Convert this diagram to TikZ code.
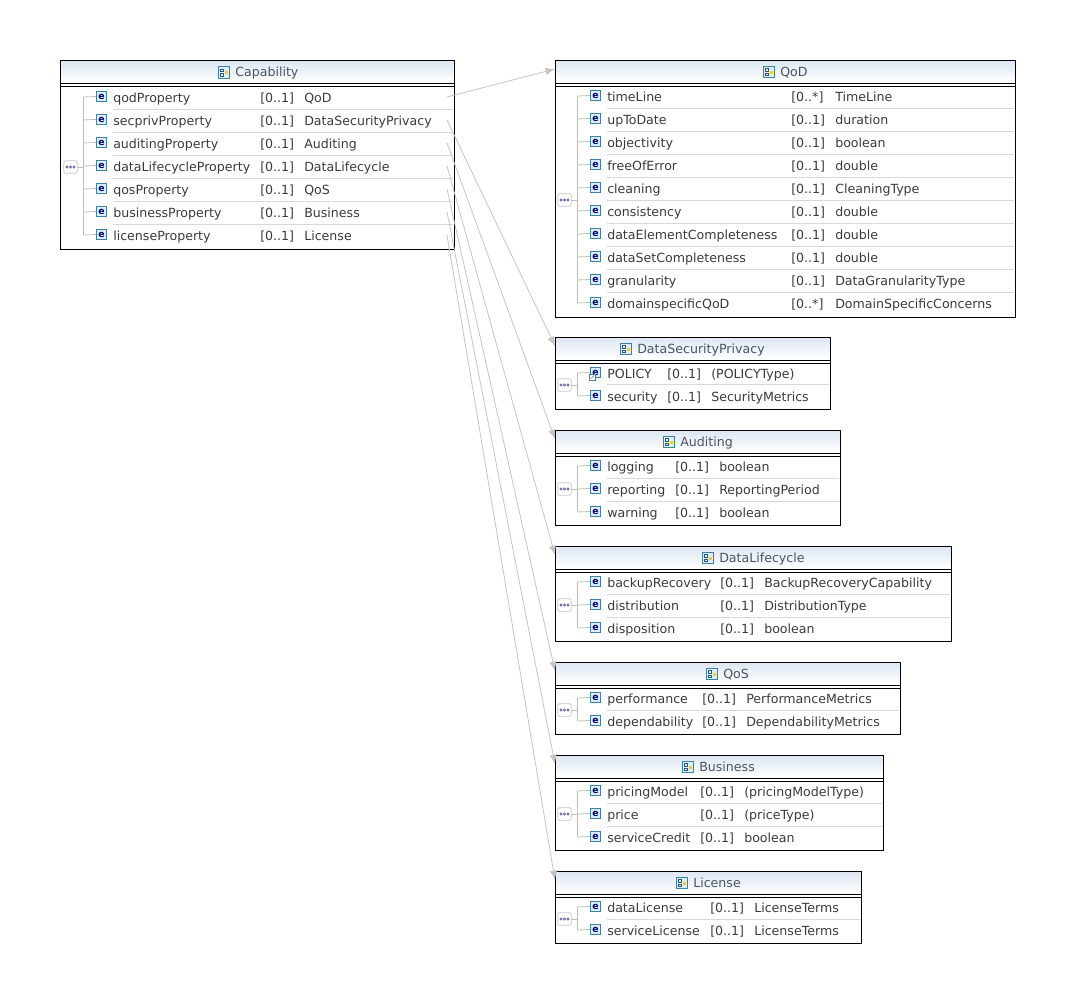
\documentclass[tikz,border=0pt]{standalone}
\usepackage{fontspec}
\setmainfont{DejaVu Sans}
\usetikzlibrary{arrows.meta,calc}
\definecolor{txt}{HTML}{3A3A3A}
\definecolor{ttl}{HTML}{4A5560}
\definecolor{wire}{HTML}{C4C4C4}
\definecolor{sep}{HTML}{D8D8D8}
\definecolor{brk}{HTML}{BDBDB5}
\definecolor{iconb}{HTML}{3F7F9F}
\definecolor{iconf}{HTML}{DDEEF6}
\definecolor{hdrtop}{HTML}{DCE6F2}
\tikzset{
  hdr/.style={top color=hdrtop,bottom color=white,draw=none},
  rowtext/.style={anchor=base west,inner sep=0,font=\fontsize{9.45}{11}\selectfont,text=txt},
  titletext/.style={anchor=base west,inner sep=0,font=\fontsize{9.45}{11}\selectfont,text=ttl},
  eicon/.style={draw=iconb,line width=0.6pt,fill=iconf,minimum size=8pt,inner sep=0,font=\bfseries\fontsize{7}{7}\selectfont,text=blue!45!black},
  ticon/.style={draw=iconb,line width=0.6pt,fill=iconf,minimum size=8.5pt,inner sep=0},
  seqbox/.style={draw=gray!45,line width=0.6pt,fill=white,rounded corners=1.5pt,minimum width=10pt,minimum height=9.5pt,inner sep=0},
  bracket/.style={draw=brk,line width=0.6pt},
  rowsep/.style={draw=sep,line width=0.5pt},
  wirearrow/.style={draw=wire,line width=0.6pt,-{Latex[length=7pt,width=5.5pt,fill=wire]}},
}
% \umlbox{id}{x1}{y1}{x2}{y2}{title}{titleX}
\newcommand{\umlbox}[7]{%
  \path[hdr] (#2,#3) rectangle (#4,#3+22);
  \node[ticon] (#1icon) at (#7,#3+12) {};
  \draw[iconb!70!black,line width=0.4pt] (#7-3.5,#3+8.5) rectangle +(2.5,2.5) (#7-3.5,#3+13) rectangle +(2.5,2.5);
  \fill[yellow!70!orange] (#7+0.5,#3+10.5) rectangle +(3,3);
  \node[titletext] (#1title) at (#7+11,#3+16) {#6};
  \draw[black,line width=0.75pt] (#2,#3) rectangle (#4,#5);
  \draw[black,line width=0.75pt] (#2,#3+23) -- (#4,#3+23) (#2,#3+26) -- (#4,#3+26);
  \coordinate (#1in) at (#2,#3+9);
}
% \umlrow{id}{boxleft}{y}{name}{xcard}{card}{xtype}{type}{boxright}
\newcommand{\umlrow}[9]{%
  \node[eicon] (#1e) at (#2+46.5,#3-0.5) {e};
  \node[rowtext] (#1n) at (#2+58,#3+5) {#4};
  \node[rowtext] (#1c) at (#5,#3+5) {#6};
  \node[rowtext] (#1t) at (#7,#3+5) {#8};
  \draw[bracket] (#2+28,#3) -- (#1e.west);
  \coordinate (#1r) at (#9-7,#3);
}
\newcommand{\umlsep}[3]{\draw[rowsep] (#1,#2) -- (#3,#2);}
% \umlseq{id}{boxleft}{ytop}{ybottom}{ymid}
\newcommand{\umlseq}[5]{%
  \draw[bracket] (#2+28,#3) -- (#2+28,#4);
  \draw[bracket] (#2+22,#5) -- (#2+28,#5);
  \node[seqbox] (#1) at (#2+15.5,#5) {};
  \foreach \k in {-3.5,0,3.5} {\draw[gray!80!blue,line width=0.5pt] (#2+15.5+\k,#5) circle (1.1);}
}
\begin{document}
\begin{tikzpicture}[x=0.75pt,y=-0.75pt]
\useasboundingbox (0,0) rectangle (1076,1004);

% Capability
\umlbox{cap}{60.5}{60.5}{454}{249}{Capability}{224}
\foreach \y in {109,132,155,178,201,224} {\umlsep{113}{\y}{453}}
\umlseq{capseq}{55}{97}{235}{167}
\umlrow{qod}{55}{97}{qodProperty}{260}{[0..1]}{304}{QoD}{454}
\umlrow{sec}{55}{120}{secprivProperty}{260}{[0..1]}{304}{DataSecurityPrivacy}{454}
\umlrow{aud}{55}{143}{auditingProperty}{260}{[0..1]}{304}{Auditing}{454}
\umlrow{dlc}{55}{166}{dataLifecycleProperty}{260}{[0..1]}{304}{DataLifecycle}{454}
\umlrow{qos}{55}{189}{qosProperty}{260}{[0..1]}{304}{QoS}{454}
\umlrow{bus}{55}{212}{businessProperty}{260}{[0..1]}{304}{Business}{454}
\umlrow{lic}{55}{235}{licenseProperty}{260}{[0..1]}{304}{License}{454}

% QoD
\umlbox{bqod}{555}{60}{1015}{317}{QoD}{769}
\foreach \y in {108,131,154,177,200,223,246,269,292} {\umlsep{607}{\y}{1014}}
\umlseq{qodseq}{549}{96}{303}{200}
\umlrow{a1}{549}{96}{timeLine}{791}{[0..*]}{835}{TimeLine}{1015}
\umlrow{a2}{549}{119}{upToDate}{791}{[0..1]}{835}{duration}{1015}
\umlrow{a3}{549}{142}{objectivity}{791}{[0..1]}{835}{boolean}{1015}
\umlrow{a4}{549}{165}{freeOfError}{791}{[0..1]}{835}{double}{1015}
\umlrow{a5}{549}{188}{cleaning}{791}{[0..1]}{835}{CleaningType}{1015}
\umlrow{a6}{549}{211}{consistency}{791}{[0..1]}{835}{double}{1015}
\umlrow{a7}{549}{234}{dataElementCompleteness}{791}{[0..1]}{835}{double}{1015}
\umlrow{a8}{549}{257}{dataSetCompleteness}{791}{[0..1]}{835}{double}{1015}
\umlrow{a9}{549}{280}{granularity}{791}{[0..1]}{835}{DataGranularityType}{1015}
\umlrow{a10}{549}{303}{domainspecificQoD}{791}{[0..*]}{835}{DomainSpecificConcerns}{1015}

% DataSecurityPrivacy
\umlbox{bsec}{555}{337}{830}{409}{DataSecurityPrivacy}{626}
\umlsep{607}{384}{829}
\umlseq{secseq}{549}{373}{396}{385}
\umlrow{b1}{549}{373}{POLICY}{667}{[0..1]}{711}{(POLICYType)}{830}
\umlrow{b2}{549}{396}{security}{667}{[0..1]}{711}{SecurityMetrics}{830}
\draw[iconb,fill=white,line width=0.4pt] (589.5,374) rectangle (595.5,380);
\draw[iconb,line width=0.5pt] (591,378.5) -- (594,375.5);

% Auditing
\umlbox{baud}{555}{430}{840}{525}{Auditing}{669}
\foreach \y in {478,501} {\umlsep{607}{\y}{839}}
\umlseq{audseq}{549}{466}{512}{489}
\umlrow{c1}{549}{466}{logging}{675}{[0..1]}{719}{boolean}{840}
\umlrow{c2}{549}{489}{reporting}{675}{[0..1]}{719}{ReportingPeriod}{840}
\umlrow{c3}{549}{512}{warning}{675}{[0..1]}{719}{boolean}{840}

% DataLifecycle
\umlbox{bdlc}{555}{546}{951}{641}{DataLifecycle}{708}
\foreach \y in {594,617} {\umlsep{607}{\y}{950}}
\umlseq{dlcseq}{549}{582}{628}{605}
\umlrow{d1}{549}{582}{backupRecovery}{720}{[0..1]}{764}{BackupRecoveryCapability}{951}
\umlrow{d2}{549}{605}{distribution}{720}{[0..1]}{764}{DistributionType}{951}
\umlrow{d3}{549}{628}{disposition}{720}{[0..1]}{764}{boolean}{951}

% QoS
\umlbox{bqos}{555}{662}{900}{734}{QoS}{712}
\umlsep{607}{710}{899}
\umlseq{qosseq}{549}{698}{721}{710}
\umlrow{e1}{549}{698}{performance}{702}{[0..1]}{746}{PerformanceMetrics}{900}
\umlrow{e2}{549}{721}{dependability}{702}{[0..1]}{746}{DependabilityMetrics}{900}

% Business
\umlbox{bbus}{555}{755}{883}{850}{Business}{688}
\foreach \y in {803,826} {\umlsep{607}{\y}{882}}
\umlseq{busseq}{549}{791}{837}{814}
\umlrow{f1}{549}{791}{pricingModel}{700}{[0..1]}{744}{(pricingModelType)}{883}
\umlrow{f2}{549}{814}{price}{700}{[0..1]}{744}{(priceType)}{883}
\umlrow{f3}{549}{837}{serviceCredit}{700}{[0..1]}{744}{boolean}{883}

% License
\umlbox{blic}{555}{871}{861}{943}{License}{682}
\umlsep{607}{919}{860}
\umlseq{licseq}{549}{907}{930}{919}
\umlrow{g1}{549}{907}{dataLicense}{710}{[0..1]}{754}{LicenseTerms}{861}
\umlrow{g2}{549}{930}{serviceLicense}{710}{[0..1]}{754}{LicenseTerms}{861}

% connectors
\foreach \s/\t in {qod/bqod,sec/bsec,aud/baud,dlc/bdlc,qos/bqos,bus/bbus,lic/blic} {
  \draw[wirearrow] (\s r) -- (\t in);
}
\end{tikzpicture}
\end{document}
